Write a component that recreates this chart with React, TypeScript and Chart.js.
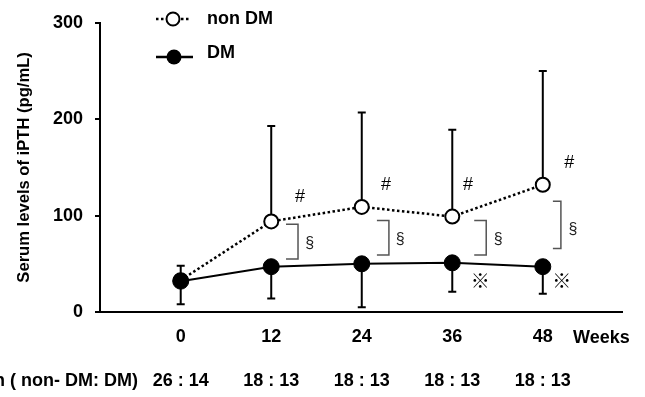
import { useEffect, useRef } from "react";
import { Chart, registerables } from "chart.js";
Chart.register(...registerables);

const weeks = [0, 12, 24, 36, 48];
const seriesNames = ["non DM", "DM"];
const nonDM = [33, 94, 109, 99, 132];
const nonDMUpper = [48, 193, 207, 189, 250];
const dm = [32, 47, 50, 51, 47];
const dmLower = [8, 14, 5, 21, 19];
const yTicks = [0, 100, 200, 300];
const counts = ["26 : 14", "18 : 13", "18 : 13", "18 : 13", "18 : 13"];
const countLabel = "n ( non- DM: DM)";
const xUnit = "Weeks";
const yTitle = "Serum levels of iPTH (pg/mL)";
// significance marks, in data coordinates (weeks, pg/mL)
const hashX = [15.8, 27.2, 38.1, 51.5];
const hashY = [119, 132, 132, 155];
const bracketX = [15.55, 27.6, 40.5, 50.4];
const bracketTop = [91, 95, 95, 115];
const bracketBottom = [55, 59, 59, 66];
const sectX = [17.1, 29.1, 42.1, 52.0];
const sectY = [71, 75, 75, 85];
const refX = [39.7, 50.5];
const refY = [32, 32];

const FONT = "'Liberation Sans', Arial, sans-serif";

const annotate = {
  id: "annotate",
  beforeDatasetsDraw(chart: any) {
    const { ctx } = chart;
    const xs = chart.scales.x;
    const ys = chart.scales.y;
    ctx.save();
    ctx.strokeStyle = "#000";
    ctx.lineWidth = 2;
    const bar = (w: number, from: number, to: number) => {
      const px = xs.getPixelForValue(w);
      const y1 = ys.getPixelForValue(from);
      const y2 = ys.getPixelForValue(to);
      ctx.beginPath();
      ctx.moveTo(px, y1);
      ctx.lineTo(px, y2);
      ctx.moveTo(px - 4, y2);
      ctx.lineTo(px + 4, y2);
      ctx.stroke();
    };
    weeks.forEach((w, i) => {
      bar(w, nonDM[i], nonDMUpper[i]);
      bar(w, dm[i], dmLower[i]);
    });
    ctx.restore();
  },
  afterDraw(chart: any) {
    const { ctx } = chart;
    const xs = chart.scales.x;
    const ys = chart.scales.y;
    ctx.save();
    // legend
    ctx.strokeStyle = "#000";
    ctx.lineWidth = 2.5;
    ctx.setLineDash([2.5, 2.5]);
    ctx.beginPath();
    ctx.moveTo(156, 19);
    ctx.lineTo(191, 19);
    ctx.stroke();
    ctx.setLineDash([]);
    ctx.beginPath();
    ctx.arc(173, 19, 6.5, 0, Math.PI * 2);
    ctx.fillStyle = "#fff";
    ctx.fill();
    ctx.lineWidth = 2;
    ctx.stroke();
    ctx.lineWidth = 2.5;
    ctx.beginPath();
    ctx.moveTo(156, 57);
    ctx.lineTo(193, 57);
    ctx.stroke();
    ctx.beginPath();
    ctx.arc(174, 57, 7.5, 0, Math.PI * 2);
    ctx.fillStyle = "#000";
    ctx.fill();
    ctx.fillStyle = "#000";
    ctx.font = `bold 18px ${FONT}`;
    ctx.textAlign = "left";
    ctx.textBaseline = "middle";
    ctx.fillText(seriesNames[0], 207, 19);
    ctx.fillText(seriesNames[1], 207, 53);
    // axis texts
    ctx.fillText(xUnit, 573, 338);
    ctx.textAlign = "right";
    ctx.fillText(countLabel, 138, 381);
    // # marks
    ctx.font = `18px ${FONT}`;
    ctx.textAlign = "center";
    hashX.forEach((x, i) => {
      ctx.fillText("#", xs.getPixelForValue(x), ys.getPixelForValue(hashY[i]));
    });
    // brackets
    ctx.strokeStyle = "#555";
    ctx.lineWidth = 1.5;
    bracketX.forEach((x, i) => {
      const px = xs.getPixelForValue(x);
      const t = ys.getPixelForValue(bracketTop[i]);
      const b = ys.getPixelForValue(bracketBottom[i]);
      const arm = i === bracketX.length - 1 ? 8 : 12;
      ctx.beginPath();
      ctx.moveTo(px - arm, t);
      ctx.lineTo(px, t);
      ctx.lineTo(px, b);
      ctx.lineTo(px - arm, b);
      ctx.stroke();
    });
    ctx.fillStyle = "#222";
    ctx.font = `16px ${FONT}`;
    sectX.forEach((x, i) => {
      ctx.fillText("§", xs.getPixelForValue(x), ys.getPixelForValue(sectY[i]));
    });
    ctx.fillStyle = "#000";
    ctx.font = `19px 'Noto Sans CJK JP', sans-serif`;
    refX.forEach((x, i) => {
      ctx.fillText("※", xs.getPixelForValue(x), ys.getPixelForValue(refY[i]));
    });
    ctx.restore();
  },
};

export default function App() {
  const ref = useRef<HTMLCanvasElement>(null);
  useEffect(() => {
    document.body.style.margin = "0";
    const chart = new Chart(ref.current!, {
      type: "line",
      data: {
        datasets: [
          {
            label: seriesNames[1],
            data: weeks.map((w, i) => ({ x: w, y: dm[i] })),
            borderColor: "#000",
            borderWidth: 2,
            pointRadius: 8,
            pointBackgroundColor: "#000",
            pointBorderColor: "#000",
            pointBorderWidth: 1,
            order: 0,
          },
          {
            label: seriesNames[0],
            data: weeks.map((w, i) => ({ x: w, y: nonDM[i] })),
            borderColor: "#000",
            borderWidth: 2.5,
            borderDash: [2.5, 2.5],
            pointRadius: 7,
            pointBackgroundColor: "#fff",
            pointBorderColor: "#000",
            pointBorderWidth: 2,
            order: 1,
          },
        ] as any,
      },
      options: {
        animation: false,
        responsive: false,
        layout: { padding: { left: 0, right: 23, top: 12, bottom: 0 } },
        plugins: { legend: { display: false }, tooltip: { enabled: false } },
        scales: {
          x: {
            type: "linear",
            min: -10.7,
            max: 58.5,
            afterBuildTicks: (s: any) => {
              s.ticks = weeks.map((v) => ({ value: v }));
            },
            afterFit: (s: any) => {
              s.height = 85;
            },
            grid: { display: false, drawTicks: false },
            border: { display: true, color: "#000", width: 2 },
            ticks: {
              color: "#000",
              font: { family: FONT, size: 18, weight: "bold", lineHeight: 22 / 18 },
              padding: 14,
              maxRotation: 0,
              autoSkip: false,
              callback: (v: any) => {
                const i = weeks.indexOf(Number(v));
                return [String(v), "", counts[i] ?? ""];
              },
            },
          },
          y: {
            min: 0,
            max: 300,
            afterBuildTicks: (s: any) => {
              s.ticks = yTicks.map((v) => ({ value: v }));
            },
            afterFit: (s: any) => {
              s.width = 100;
            },
            grid: {
              display: true,
              drawOnChartArea: false,
              drawTicks: true,
              tickLength: 5,
              color: "#000",
              lineWidth: 2,
            },
            border: { display: true, color: "#000", width: 2 },
            ticks: {
              color: "#000",
              font: { family: FONT, size: 18, weight: "bold" },
              padding: 12,
            },
            title: {
              display: true,
              text: yTitle,
              color: "#000",
              font: { family: FONT, size: 16.6, weight: "bold" },
              padding: { top: 14, bottom: 0 },
            },
          },
        },
      },
      plugins: [annotate],
    } as any);
    return () => chart.destroy();
  }, []);
  return <canvas ref={ref} width={645} height={397} style={{ display: "block" }} />;
}
